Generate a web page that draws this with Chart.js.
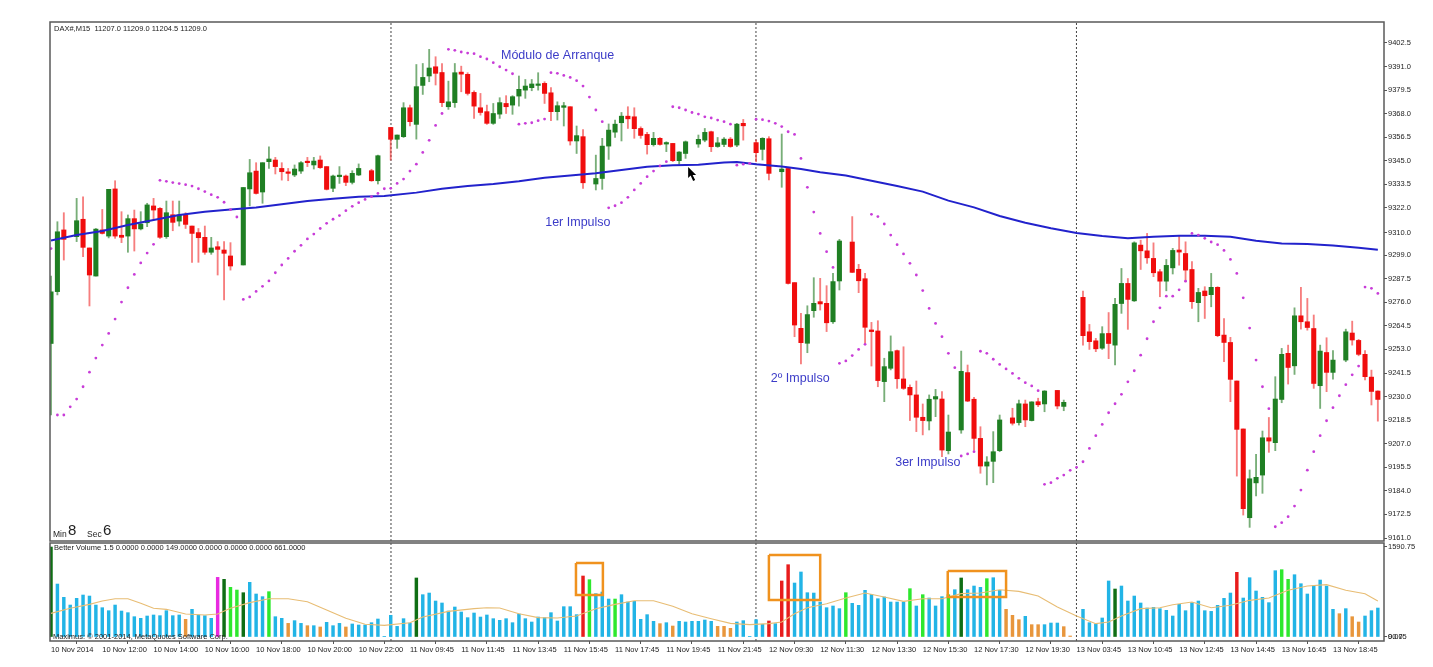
<!DOCTYPE html>
<html>
<head>
<meta charset="utf-8">
<title>DAX M15</title>
<script src="https://cdn.jsdelivr.net/npm/chart.js@4/dist/chart.umd.min.js"></script>
<style>
  html, body { margin: 0; padding: 0; background: #fff; overflow: hidden; }
  canvas { position: absolute; left: 0; filter: blur(0.35px); }
  #priceChart { top: 0; }
  #volChart { top: 541px; }
</style>
</head>
<body>
<canvas id="priceChart" width="1433" height="545"></canvas>
<canvas id="volChart" width="1433" height="126"></canvas>
<script>
// candles, one slot per bar, null where the picture shows no candle
var high = [
  9288.8,9315.3,9319.7,null,9326.7,9327.5,9302.5,9312,9321.3,9331.1,
  9335.3,9320.2,9318.6,9321,9320.2,9324.3,9326.7,9322.2,9325.4,9325.4,
  9325.4,9319.7,9313.2,9312,9313.2,9307.7,9305.6,9305.6,9305.1,null,
  9332,9345.7,9344.1,9344.1,9351.9,9346.7,9344.1,9341.3,9343,9344.6,
  9346.7,9346.7,9347.4,9342.2,9338.1,9342.2,9338.1,9340.2,9343.5,null,
  9340.9,9347.8,null,9361.3,9357.6,9373.4,9372.2,9392,9392.5,9399.4,
  9395.8,9392.5,9383.9,9392.5,9391.2,9388,9379.2,9377.9,9372.2,9373,
  9375.8,9376.8,9376.8,9386.4,9384.7,9384.7,9388,9383.6,9380.8,9373.8,
  9373.5,9371.4,9362,9360.3,null,9347.8,9356,9363,9364.9,9368.6,
  9371.4,9370.9,9361.6,9358.9,9358.9,9356.4,9354.3,9353.5,9349.5,9354.7,
  null,9357.6,9360.8,9359.5,9356.4,9356.4,9356.4,9363.3,9365.2,null,
  9355.2,9356.3,9356.8,null,9358.1,9341.3,9285.6,9270.6,9274.3,9288,
  9287.7,9284.1,9290.1,9306.7,null,9317.8,9294.5,9290.1,9266.2,9267,
  9248.7,9259.6,9252.7,9254.3,9235.7,9237.6,9226.4,9230.8,9233.5,9232.4,
  9221,null,9252.2,9245.4,9229.6,9215.3,9200.7,9212.9,9221,null,
  9224.3,9228.3,9228.3,9227.5,9229.2,9232.9,null,9233,9228.3,null,
  null,9281.5,9265.2,9258.4,9264.1,9271,9277.9,9292.5,9287.6,9305.5,
  9306.3,9309.6,9305,9292,9296.9,9302.3,9308.3,9305.5,9295.8,9282.8,
  9283.6,9290.1,9283.6,9268.1,9258.9,9237.6,9214.2,9194.2,9201.8,9213.2,
  9219.8,9239.7,9253.5,9255.1,9273.3,9283.3,9277.9,9269.8,9255.1,9258.7,
  9252.4,null,9262.9,9266.8,9257.9,9252.4,9242.9,9232.8
];
var low = [
  9221,9279.6,9296.6,null,9305.6,9298.2,9274.2,9288.8,9309.3,9307.4,
  9307.2,9305.1,9300.4,9301,9311.3,9312.9,9316.1,9307.2,9307.2,9310.9,
  9313.2,9312,9295.5,9295.5,9299.4,9299.4,9289.3,9277.1,9291.7,null,
  9294.2,9323,9328.8,9324.3,9341.3,9338.6,9335.6,9335.3,9337.3,9338.9,
  9342.2,9341,9341.3,9330.8,9330,9334,9332.9,9333.7,9337.8,null,
  9335,9333.7,null,9345.4,9351.1,9356.4,9362,9355.6,9377.4,9383.6,
  9382,9371.4,9370.1,9371.1,9378.7,9377.1,9365.7,9367.3,9362.8,9362.8,
  9365.7,9368.1,9367.7,9371.7,9375.5,9379.2,9379.5,9373,9364.6,9364.9,
  9362,9352.7,9348.6,9331.6,null,9330.8,9331.1,9345.7,9356.4,9354.7,
  9360.8,9356,9356,9348.3,9352.2,9352.7,9349.5,9344.6,9343.3,9346.2,
  null,9351.6,9354.3,9349.5,9351.6,9351.9,9351.6,9351.9,9355.1,null,
  9344.6,9345.4,9335.7,null,9332.1,9284.9,9259.2,9245.9,9251.4,9268.7,
  9272.2,9261.7,9265.7,9282,null,9290.5,9280.7,9256,9244.9,9234.8,
  9227.5,9243,9234,9233.5,9218.3,9212.9,9211.3,9213.7,9220.2,9200.7,
  9202,null,9212.1,9227.5,9203.9,9192.6,9186.9,9188,9203.1,null,
  9216.1,9216.1,9215.3,9218.1,9225.1,9222.6,null,9224,9223.1,null,
  null,9255.1,9253,9251.9,9253,9248.5,9245.4,9270.6,9262.8,9276.4,
  9292,9295,9288.5,9278.7,9281.6,9289.8,9294.1,9286,9273,9266.5,
  9268.1,9273.8,9259.2,9247,9227.5,9191.2,9172.2,9166.2,9181.5,9182.8,
  9202.8,9203.6,9227,9236.1,9240.8,9262.9,9262.4,9234,9224.2,9232.4,
  9238.5,null,9247,9255.1,9249.9,9238.1,9225.9,9218
];
var open = [
  9255.9,9281.2,9311.3,null,9308,9316.5,9302.5,9288.8,9311.3,9308.3,
  9331.3,9308.7,9308.3,9316.8,9311.8,9314.8,9323,9321.8,9308,9318.7,
  9315.6,9318.6,9313.2,9310,9307.7,9300.4,9303.1,9301.5,9298.6,null,
  9294.2,9331.3,9340,9329.8,9344.6,9345.4,9341.3,9339.2,9338.1,9340,
  9344.6,9343,9345.4,9342.2,9331.6,9337.3,9337.6,9334.5,9338.1,null,
  9340.2,9335.3,null,9361.3,9355.5,9356.8,9370.9,9362.8,9381.8,9386.4,
  9390.9,9388.1,9371.4,9373.4,9388.3,9387.2,9378.4,9370.9,9369,9363.3,
  9367.8,9373,9372.2,9376.6,9379.5,9380.7,9381.8,9382.8,9378.2,9369,
  9371.1,9371.4,9354.7,9356.8,null,9333.7,9336.4,9352.2,9359,9363.6,
  9366.8,9366.5,9360.8,9357.9,9352.9,9356,9353.2,9353.5,9345.1,9348.6,
  null,9353.2,9355.1,9359.2,9352,9353,9355.6,9352.7,9363.3,null,
  9353.9,9350.6,9355.8,null,9339.7,9341.3,9285.6,9263.3,9256,9271.9,
  9276.3,9275.5,9266.5,9286.4,null,9305.4,9292.1,9287.5,9262.5,9262,
  9237.3,9243.8,9252.4,9238.6,9234.5,9230.8,9219.9,9218.1,9228.8,9228.8,
  9203.6,null,9213.7,9241.7,9228.7,9209.6,9196.1,9198.4,9203.6,null,
  9219.6,9217.3,9226.4,9218.3,9227.5,9226.4,null,9233,9225.2,null,
  null,9278.4,9261.6,9257.2,9253.6,9260.8,9255.1,9275.4,9285.2,9276.7,
  9303.9,9301.1,9297.4,9290.9,9286.3,9292.8,9301.5,9299.8,9292,9275.8,
  9281.5,9279.7,9283.3,9260,9256.4,9237.6,9214.2,9170.9,9187.9,9191.7,
  9209.9,9207.5,9228.6,9251.1,9245,9269.4,9266.5,9263.2,9235.3,9251.5,
  9241.8,null,9247.8,9261,9257.4,9250.6,9239.5,9232.7
];
var close = [
  9281.1,9310.4,9306.7,null,9315.8,9302.8,9289.3,9311.7,9309.6,9331.1,
  9308.3,9307.7,9316.8,9311.8,9314.2,9323.5,9321,9307.7,9319.7,9315,
  9318.6,9314,9309.6,9307.5,9300.4,9302.5,9301.8,9299.9,9293.7,null,
  9332,9339.2,9329.1,9344.1,9345.9,9342.2,9339.7,9338.9,9341,9344.1,
  9344.1,9344.9,9341.7,9331.1,9337.6,9337.9,9334.5,9338.9,9341.3,null,
  9335.3,9347.5,null,9355.5,9357.6,9370.9,9364.1,9381.2,9385.7,9390.3,
  9387.7,9373.4,9373.8,9388,9387.3,9377.9,9371.7,9368.6,9363.3,9368.1,
  9373.4,9371.4,9376.3,9379.9,9381.5,9382.5,9382.5,9377.9,9369,9371.9,
  9371.9,9354.7,9357.3,9334.3,null,9336.4,9352.2,9360,9362.9,9366.8,
  9365.5,9360.7,9357.4,9352.9,9356,9353,9353.8,9345.1,9349.3,9354.3,
  null,9355.5,9358.9,9351.9,9353.8,9355.6,9352,9362.9,9362.1,null,
  9349,9356,9338.9,null,9341,9285.2,9264.9,9256.3,9270,9275.5,
  9275.2,9266,9286.1,9305.9,null,9290.6,9286.5,9263.8,9261.7,9237.8,
  9244.6,9251.9,9238.7,9234,9230.8,9219.9,9218.3,9228.7,9230,9203.9,
  9212.7,null,9242.3,9227.8,9209.6,9196.1,9198.1,9203.1,9218.6,null,
  9217,9226.5,9218.6,9227.4,9226,9232.7,null,9225.4,9227.2,null,
  null,9259.7,9256.8,9253.3,9260.7,9255.9,9275,9285.2,9277.4,9305,
  9301.1,9297.7,9290.4,9286.3,9294,9301.3,9300.5,9291.7,9276.3,9280.8,
  9279.2,9283.3,9259.7,9256.4,9238.4,9214,9175.3,9189.9,9190.6,9209.9,
  9208.3,9228.8,9250.6,9244.2,9269.4,9266.5,9263.7,9236.4,9252.2,9241.8,
  9247.8,null,9261.6,9257.6,9250.6,9239.7,9232.5,9228.6
];

// parabolic SAR dots
var sar = [
  9302.2,9221,9221,9225,9228.8,9234.8,9241.9,9248.8,9255.1,9260.8,
  9267.8,9276.1,9283.1,9289.6,9295.2,9300,9304.3,9335.5,9335,9334.4,
  9333.9,9333.4,9332.7,9331.4,9330,9328.5,9327.2,9324.8,9321.2,9317.6,
  9277.4,9278.6,9281.3,9283.8,9286.4,9290.4,9294.2,9297.4,9300.9,9303.8,
  9306.9,9309.3,9312,9314.5,9316.5,9318.3,9320.7,9322.8,9324.6,9326.2,
  9327.5,9329.1,9331.4,9331.6,9334,9336.1,9340,9343.4,9349.1,9355,
  9362.3,9368.1,9399.4,9398.9,9398.1,9397.6,9397.3,9395.8,9394.7,9392.9,
  9390.9,9389.3,9387.5,9362.9,9363.3,9363.6,9364.6,9365.4,9388,9387.7,
  9386.7,9385.7,9384.1,9381.5,9376.1,9369.8,9364.1,9322.1,9323.1,9324.6,
  9327.2,9330.8,9334,9337.3,9340,9342.5,9344.6,9371.4,9370.9,9369.8,
  9368.6,9367.8,9366.5,9365.9,9364.9,9364.1,9362.9,9342.9,9343.4,9343.8,
  9365.3,9365.1,9364.4,9363.3,9361.7,9359.2,9357.9,9346.2,9332.1,9320,
  9309.6,9300.7,9293,9246.2,9247.4,9250,9253,9255.5,9318.9,9317.8,
  9314.2,9308.8,9304.1,9299.6,9295,9289.3,9281.7,9273,9265.7,9259.2,
  9251.1,9244.1,9201,9202,9203.1,9252.1,9251.1,9248.2,9245.7,9243.5,
  9241.3,9238.9,9236.8,9235.2,9232.9,9187.2,9188,9190.1,9191.7,9194,
  9195.5,9198.2,9204.7,9210.9,9216.4,9222.1,9226.5,9231.1,9237.2,9242.6,
  9250.2,9258.2,9266.5,9273.3,9279,9279,9282.1,9286.3,9309.6,9308.8,
  9307.2,9305.4,9304.1,9301.3,9296.9,9290.1,9278.2,9263.4,9247.8,9234.8,
  9224.1,9166.5,9168.5,9171.4,9176.6,9184.4,9194.1,9203.1,9210.9,9218.2,
  9224.6,9230.4,9235.8,9240.6,9244.9,9283.4,9282.8,9280.3
];

// blue moving average, read at these bars
var maBars = [0,4,8,12,16,20,24,28,32,36,40,44,48,52,57,61,65,69,73,77,81,85,89,93,97,101,105,107,110,114,117,120,124,128,132,136,140,144,148,152,156,160,164,168,172,176,180,184,188,192,196,200,204,207];
var maValues = [9306.1,9308.8,9310.8,9313.7,9316.1,9318.6,9320.2,9321.3,9322.3,9323.8,9325.4,9326.5,9327.5,9327.8,9329.5,9331.4,9332.7,9333.7,9335.1,9336.8,9337.9,9338.9,9340.5,9342.1,9342.8,9343.1,9344.2,9344.4,9343.3,9342.2,9341,9339.4,9337.8,9335.3,9332.7,9330,9325.6,9322.3,9318.1,9314.8,9312.1,9309.8,9308.3,9307.3,9308,9308.5,9308.5,9308,9306,9304.7,9304.4,9303.7,9302.6,9301.6];

// volume bars
var volume = [
  1590,936,701,565,683,742,724,565,518,465,
  565,459,430,359,330,371,389,377,465,377,
  389,312,489,389,377,330,1054,1019,878,830,
  783,966,760,713,801,359,330,241,289,241,
  200,200,177,259,200,241,177,230,212,212,
  253,318,6,383,188,324,247,1043,748,777,
  636,601,459,530,442,342,424,353,389,324,
  295,324,253,406,324,265,353,342,430,283,
  536,536,395,1078,1013,766,795,671,671,748,
  618,630,312,395,277,236,253,194,277,265,
  277,277,300,277,188,188,153,265,289,6,
  306,224,283,236,990,1278,954,1149,783,777,
  618,518,548,501,783,595,560,825,754,677,
  707,618,618,618,854,548,748,689,548,713,
  748,836,1043,836,901,878,1031,1048,825,489,
  383,306,365,218,218,218,247,247,183,18,
  null,489,253,230,336,990,848,901,636,724,
  601,512,524,501,471,371,577,465,607,636,
  465,453,560,683,777,1143,689,1048,813,701,
  607,1172,1190,1019,1101,942,760,901,1007,901,
  489,412,501,359,265,371,465,512
];
var limeBars = [28,29,34,84,88,124,134,136,140,146,192,193];
var darkBars = [0,27,30,57,142,166];
var redBars = [83,112,114,115,185];
var magentaBars = [26];
var orangeBars = [21,37,40,42,46,95,97,104,105,106,149,150,151,153,154,158,159,201,203,204];

// tan volume average, read at these bars
var volMaBars = [0,3,6,8,10,12,14,16,18,21,24,26,28,31,34,37,40,43,46,49,52,56,58,62,66,68,70,73,76,79,82,85,88,91,94,97,100,103,106,109,112,114,116,118,121,124,127,130,133,136,139,142,145,148,151,154,157,160,163,165,167,170,173,175,178,181,184,187,190,193,196,199,202,205,207];
var volMaValues = [418,507,577,636,677,677,595,507,489,406,389,406,507,607,677,677,624,477,330,224,206,253,353,453,501,518,512,412,342,336,371,501,577,642,642,542,412,324,241,218,236,265,412,518,589,689,777,707,630,677,677,766,777,836,807,724,530,371,236,265,371,501,518,571,618,518,560,648,689,825,901,925,825,766,636];

var priceTicks = [9402.5,9391,9379.5,9368,9356.5,9345,9333.5,9322,9310,9299,9287.5,9276,9264.5,9253,9241.5,9230,9218.5,9207,9195.5,9184,9172.5,9161];
var volTicks = [1590.75,0,0];
var volTickLabels = ['1590.75','0.00','90.75'];
var timeLabels = ['10 Nov 2014','10 Nov 12:00','10 Nov 14:00','10 Nov 16:00','10 Nov 18:00','10 Nov 20:00','10 Nov 22:00',
  '11 Nov 09:45','11 Nov 11:45','11 Nov 13:45','11 Nov 15:45','11 Nov 17:45','11 Nov 19:45','11 Nov 21:45',
  '12 Nov 09:30','12 Nov 11:30','12 Nov 13:30','12 Nov 15:30','12 Nov 17:30','12 Nov 19:30',
  '13 Nov 03:45','13 Nov 10:45','13 Nov 12:45','13 Nov 14:45','13 Nov 16:45','13 Nov 18:45'];
var dayBars = [53.04,109.98,159.98];

// text written on the chart: bar, price
var noteTexts = ['Módulo de Arranque','1er Impulso','2º Impulso','3er Impulso'];
var noteBars = [70.2,77.1,112.3,131.7];
var notePrices = [9396.6,9315.1,9239,9197.6];

// orange boxes on the volume pane
var boxLeft = [81.9,112,139.9];
var boxRight = [86.1,120,149];
var boxTop = [1308,1449,1166];
var boxBottom = [742,654,707];

var cursorBar = 99.4;
var cursorPrice = 9342;

var FONT = '"Liberation Sans"';
var xMin = -0.156, xMax = 207.96;
var priceMin = 9159.54, priceMax = 9412.74;
var volMin = -70.7, volMax = 1661.4;

function candleColor(i, up, down) { return close[i] >= open[i] ? up : down; }

var barIdx = [];
for (var i = 0; i < open.length; i++) { if (open[i] !== null) barIdx.push(i); }

function dayLines(lo, hi) {
  return dayBars.map(function(x) {
    return {
      type: 'line',
      data: [{x: x, y: lo}, {x: x, y: hi}],
      borderColor: '#444',
      borderWidth: 1,
      borderDash: [2, 2],
      pointRadius: 0,
      order: 9
    };
  });
}

// tick labels must not push the plot area in
function fitRight(s) {
  s.width = 49;
  s.paddingTop = 0;
  s.paddingBottom = 0;
}
function fitBottom(s) {
  s.height = 26;
  s.paddingLeft = 0;
  s.paddingRight = 0;
}

function frame(ctx, a) {
  ctx.strokeStyle = '#5a5a5a';
  ctx.lineWidth = 1.5;
  ctx.strokeRect(a.left, a.top, a.right - a.left, a.bottom - a.top);
}

var pricePlugin = {
  id: 'priceDecor',
  afterDraw: function(chart) {
    var ctx = chart.ctx, a = chart.chartArea, sx = chart.scales.x, sy = chart.scales.y;
    ctx.save();
    frame(ctx, a);
    ctx.textBaseline = 'middle';
    ctx.fillStyle = '#3c3cc8';
    ctx.font = '12.5px ' + FONT;
    noteTexts.forEach(function(t, n) {
      ctx.fillText(t, sx.getPixelForValue(noteBars[n]), sy.getPixelForValue(notePrices[n]));
    });
    ctx.fillStyle = '#222';
    ctx.font = '7.5px ' + FONT;
    ctx.fillText('DAX#,M15  11207.0 11209.0 11204.5 11209.0', a.left + 4, a.top + 7);
    ctx.font = '8.5px ' + FONT;
    ctx.fillText('Min', a.left + 3, a.bottom - 6);
    ctx.fillText('Sec', a.left + 37, a.bottom - 6);
    ctx.font = '15px ' + FONT;
    ctx.fillText('8', a.left + 18, a.bottom - 10);
    ctx.fillText('6', a.left + 53, a.bottom - 10);
    // mouse pointer left in the screenshot
    var cx = sx.getPixelForValue(cursorBar), cy = sy.getPixelForValue(cursorPrice);
    ctx.fillStyle = '#000';
    ctx.beginPath();
    ctx.moveTo(cx, cy);
    ctx.lineTo(cx, cy + 11);
    ctx.lineTo(cx + 2.5, cy + 8.5);
    ctx.lineTo(cx + 5, cy + 14);
    ctx.lineTo(cx + 7, cy + 13);
    ctx.lineTo(cx + 4.5, cy + 8);
    ctx.lineTo(cx + 8, cy + 8);
    ctx.closePath();
    ctx.fill();
    ctx.restore();
  }
};

var volPlugin = {
  id: 'volDecor',
  afterDraw: function(chart) {
    var ctx = chart.ctx, a = chart.chartArea;
    ctx.save();
    frame(ctx, a);
    ctx.textBaseline = 'middle';
    ctx.fillStyle = '#222';
    ctx.font = '7.5px ' + FONT;
    ctx.fillText('Better Volume 1.5 0.0000 0.0000 149.0000 0.0000 0.0000 0.0000 661.0000', a.left + 4, a.top + 5);
    ctx.fillText('Maximus: © 2001-2014, MetaQuotes Software Corp.', a.left + 3, a.bottom - 4);
    ctx.restore();
  }
};

var xHidden = {type: 'linear', min: xMin, max: xMax, display: false, offset: false, grid: {display: false}};

new Chart(document.getElementById('priceChart'), {
  type: 'bar',
  data: {
    datasets: [
      {
        // wicks
        data: barIdx.map(function(i) { return {x: i, y: [low[i], high[i]]}; }),
        backgroundColor: barIdx.map(function(i) { return candleColor(i, 'rgba(30,120,30,0.6)', 'rgba(240,40,40,0.6)'); }),
        barThickness: 1.2,
        grouped: false,
        order: 6
      },
      {
        // bodies
        data: barIdx.map(function(i) { return {x: i, y: [open[i], close[i]]}; }),
        backgroundColor: barIdx.map(function(i) { return candleColor(i, '#1f7f23', '#f00d0d'); }),
        barThickness: 4.4,
        minBarLength: 1.5,
        grouped: false,
        order: 5
      },
      {
        type: 'line',
        data: maBars.map(function(b, n) { return {x: b, y: maValues[n]}; }),
        borderColor: '#2222cc',
        borderWidth: 2,
        pointRadius: 0,
        order: 3
      },
      {
        type: 'scatter',
        data: sar.map(function(v, n) { return {x: n, y: v}; }),
        backgroundColor: '#c83cd8',
        borderWidth: 0,
        pointRadius: 1.4,
        order: 2
      }
    ].concat(dayLines(priceMin, priceMax))
  },
  options: {
    responsive: false,
    devicePixelRatio: 1,
    animation: false,
    layout: {padding: {left: 50, top: 22, right: 0, bottom: 0}},
    plugins: {legend: {display: false}, tooltip: {enabled: false}},
    scales: {
      x: xHidden,
      y: {
        position: 'right',
        min: priceMin,
        max: priceMax,
        afterBuildTicks: function(s) { s.ticks = priceTicks.map(function(v) { return {value: v}; }); },
        afterFit: fitRight,
        grid: {drawOnChartArea: false, drawTicks: true, tickLength: 3, color: '#555'},
        border: {display: false},
        ticks: {
          autoSkip: false,
          padding: 1,
          color: '#222',
          font: {family: FONT, size: 7.5},
          callback: function(v) { return v.toFixed(1); }
        }
      }
    }
  },
  plugins: [pricePlugin]
});

function volColor(i) {
  if (limeBars.indexOf(i) >= 0) return '#2ee82e';
  if (darkBars.indexOf(i) >= 0) return '#0f6e14';
  if (redBars.indexOf(i) >= 0) return '#e81c1c';
  if (magentaBars.indexOf(i) >= 0) return '#e82ae0';
  if (orangeBars.indexOf(i) >= 0) return '#e8963c';
  return '#22b4e6';
}

var boxSets = boxLeft.map(function(l, n) {
  var r = boxRight[n], t = boxTop[n], b = boxBottom[n];
  return {
    type: 'line',
    data: [{x: l, y: t}, {x: r, y: t}, {x: r, y: b}, {x: l, y: b}, {x: l, y: t}],
    borderColor: '#f0921e',
    borderWidth: 2.5,
    borderJoinStyle: 'miter',
    pointRadius: 0,
    order: 1
  };
});

new Chart(document.getElementById('volChart'), {
  type: 'bar',
  data: {
    datasets: [
      {
        data: volume.map(function(v, n) { return {x: n, y: v}; }),
        backgroundColor: volume.map(function(v, n) { return volColor(n); }),
        barThickness: 2.8,
        grouped: false,
        order: 5
      },
      {
        type: 'line',
        data: volMaBars.map(function(b, n) { return {x: b, y: volMaValues[n]}; }),
        borderColor: '#e8bd74',
        borderWidth: 1.1,
        pointRadius: 0,
        order: 3
      }
    ].concat(dayLines(volMin, volMax), boxSets)
  },
  options: {
    responsive: false,
    devicePixelRatio: 1,
    animation: false,
    layout: {padding: {left: 50, top: 2, right: 0, bottom: 0}},
    plugins: {legend: {display: false}, tooltip: {enabled: false}},
    scales: {
      x: {
        type: 'linear',
        min: xMin,
        max: xMax,
        offset: false,
        afterBuildTicks: function(s) { s.ticks = timeLabels.map(function(t, n) { return {value: n * 8}; }); },
        afterFit: fitBottom,
        grid: {drawOnChartArea: false, drawTicks: true, tickLength: 3, color: '#555'},
        border: {display: false},
        ticks: {
          autoSkip: false,
          maxRotation: 0,
          align: 'start',
          padding: 1,
          color: '#222',
          font: {family: FONT, size: 7.5},
          callback: function(v) { return timeLabels[v / 8]; }
        }
      },
      y: {
        position: 'right',
        min: volMin,
        max: volMax,
        afterBuildTicks: function(s) { s.ticks = volTicks.map(function(v) { return {value: v}; }); },
        afterFit: fitRight,
        grid: {drawOnChartArea: false, drawTicks: true, tickLength: 3, color: '#555'},
        border: {display: false},
        ticks: {
          autoSkip: false,
          padding: 1,
          color: '#222',
          font: {family: FONT, size: 7.5},
          callback: function(v, n) { return volTickLabels[n]; }
        }
      }
    }
  },
  plugins: [volPlugin]
});
</script>
</body>
</html>
